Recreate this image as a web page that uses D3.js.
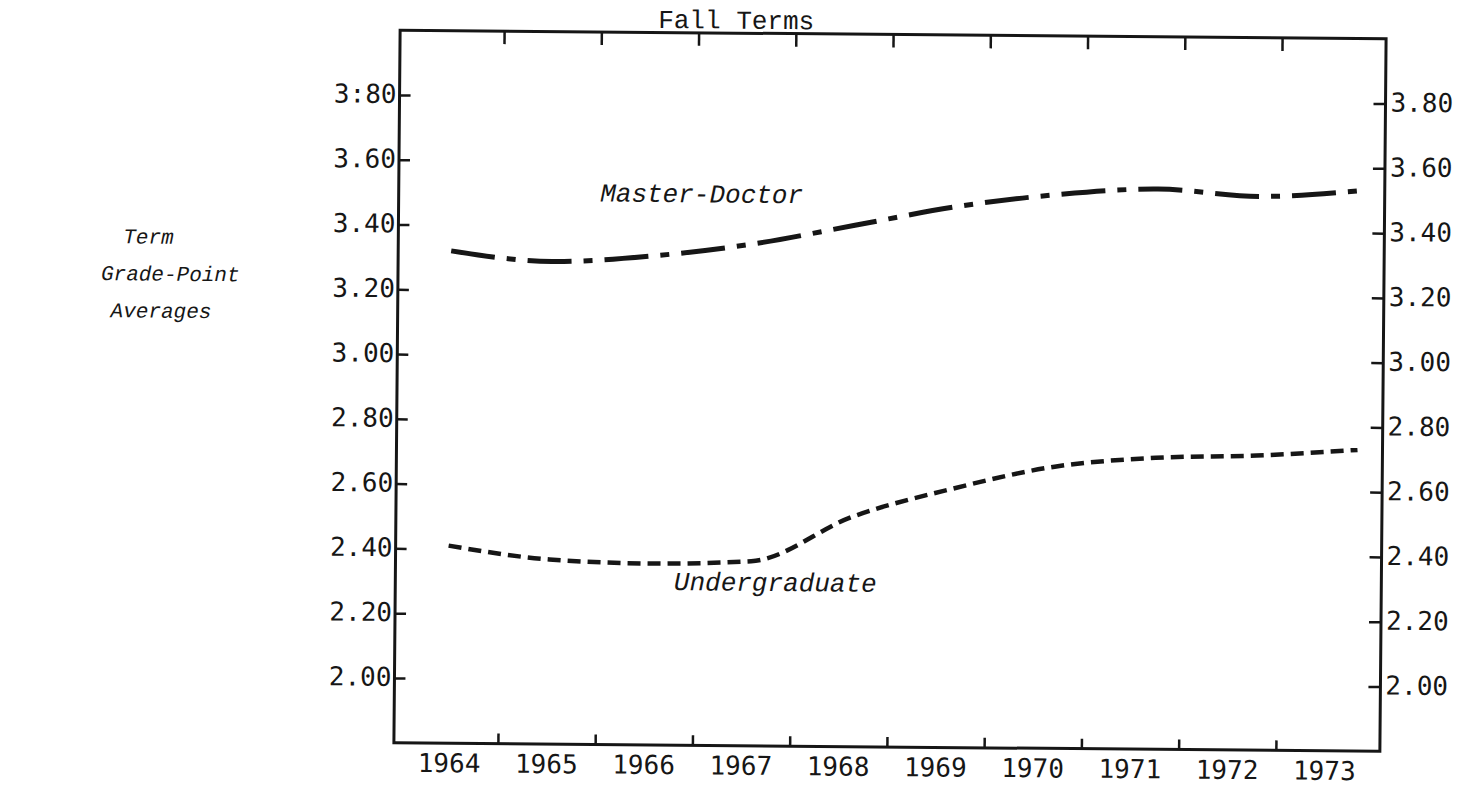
<!DOCTYPE html>
<html>
<head>
<meta charset="utf-8">
<script src="https://cdn.jsdelivr.net/npm/d3@7"></script>
<style>
  body { margin: 0; background: #fff; }
  .num { font-family: "DejaVu Sans Mono", monospace; font-size: 26px; fill: #161616; }
  .type { font-family: "Liberation Mono", "Courier New", monospace; fill: #161616; }
</style>
</head>
<body>
<div id="chart"></div>
<script>
var years = [1964, 1965, 1966, 1967, 1968, 1969, 1970, 1971, 1972, 1973];
var masterDoctor = [3.32, 3.29, 3.31, 3.35, 3.41, 3.47, 3.51, 3.53, 3.51, 3.53];
var undergraduate = [2.41, 2.37, 2.36, 2.37, 2.51, 2.60, 2.67, 2.70, 2.71, 2.73];
var yTicks = [2.00, 2.20, 2.40, 2.60, 2.80, 3.00, 3.20, 3.40, 3.60, 3.80];
var yLabelsLeft = ["2.00", "2.20", "2.40", "2.60", "2.80", "3.00", "3.20", "3.40", "3.60", "3:80"];
var yLabelsRight = ["2.00", "2.20", "2.40", "2.60", "2.80", "3.00", "3.20", "3.40", "3.60", "3.80"];
var sideTitle = ["Term", "Grade-Point", "Averages"];

var width = 1470, height = 791;
var box = {left: 397, right: 1383, top: 34.5, bottom: 747};
var ink = "#161616";

var svg = d3.select("#chart").append("svg")
  .attr("width", width)
  .attr("height", height)
;
// the scanned page sits a little crooked
var g = svg.append("g").attr("transform", "rotate(0.5, 890, 390)");

var y = d3.scaleLinear().domain([1.80, 4.00]).range([box.bottom, box.top]);
// year boundaries (tick marks) and label centres
var x = d3.scaleLinear().domain([1964.5, 1972.5]).range([501, 1279]);
var xData = d3.scalePoint().domain(years).range([450, 1358]);

//frame
g.append("rect")
  .attr("x", box.left).attr("y", box.top)
  .attr("width", box.right - box.left).attr("height", box.bottom - box.top)
  .attr("fill", "none").attr("stroke", ink).attr("stroke-width", 3)
;

//left and right value axes, ticks inward
var leftAxis = d3.axisRight(y).tickValues(yTicks).tickSize(11).tickFormat(function() { return ""; });
var rightAxis = d3.axisLeft(y).tickValues(yTicks).tickSize(12).tickFormat(function() { return ""; });
g.append("g").attr("transform", "translate(" + box.left + ",0)").call(leftAxis);
g.append("g").attr("transform", "translate(" + box.right + ",0)").call(rightAxis);

//year axes, ticks on the boundaries
var bounds = years.slice(0, -1).map(function(d) { return d + 0.5; });
var bottomAxis = d3.axisTop(x).tickValues(bounds).tickSize(10).tickFormat(function() { return ""; });
var topAxis = d3.axisBottom(x).tickValues(bounds).tickSize(13).tickFormat(function() { return ""; });
g.append("g").attr("transform", "translate(0," + box.bottom + ")").call(bottomAxis);
g.append("g").attr("transform", "translate(0," + box.top + ")").call(topAxis);

g.selectAll(".domain").remove();
g.selectAll(".tick line").attr("stroke", ink).attr("stroke-width", 2.5);

//tick labels
g.selectAll("text.left").data(yTicks).enter().append("text")
  .attr("class", "num")
  .attr("x", box.left - 3)
  .attr("y", function(d) { return y(d) + 8; })
  .attr("text-anchor", "end")
  .text(function(d, i) { return yLabelsLeft[i]; })
;
g.selectAll("text.right").data(yTicks).enter().append("text")
  .attr("class", "num")
  .attr("x", box.right + 5)
  .attr("y", function(d) { return y(d) + 8; })
  .text(function(d, i) { return yLabelsRight[i]; })
;
g.selectAll("text.year").data(years).enter().append("text")
  .attr("class", "num")
  .attr("x", function(d) { return x(d); })
  .attr("y", box.bottom + 29)
  .attr("text-anchor", "middle")
  .text(function(d) { return d; })
;

//lines
var line = d3.line()
  .x(function(d, i) { return xData(years[i]); })
  .y(function(d) { return y(d); })
  .curve(d3.curveMonotoneX)
;
g.append("path")
  .attr("d", line(masterDoctor))
  .attr("fill", "none").attr("stroke", ink)
  .attr("stroke-width", 5)
  .attr("stroke-dasharray", "44,12,9,12")
;
g.append("path")
  .attr("d", line(undergraduate))
  .attr("fill", "none").attr("stroke", ink)
  .attr("stroke-width", 4.5)
  .attr("stroke-dasharray", "13,7")
;

//texts
g.append("text")
  .attr("class", "type")
  .attr("x", 733).attr("y", 30)
  .attr("text-anchor", "middle")
  .style("font-size", "26px")
  .text("Fall Terms")
;
g.append("text")
  .attr("class", "type")
  .attr("x", 700).attr("y", 204)
  .attr("text-anchor", "middle")
  .style("font-size", "26px").style("font-style", "italic")
  .text("Master-Doctor")
;
g.append("text")
  .attr("class", "type")
  .attr("x", 777).attr("y", 592)
  .attr("text-anchor", "middle")
  .style("font-size", "26px").style("font-style", "italic")
  .text("Undergraduate")
;
var sideX = [122, 100, 110];
g.selectAll("text.side").data(sideTitle).enter().append("text")
  .attr("class", "type")
  .attr("x", function(d, i) { return sideX[i]; })
  .attr("y", function(d, i) { return 250 + i * 37; })
  .style("font-size", "21px").style("font-style", "italic")
  .text(function(d) { return d; })
;
</script>
</body>
</html>
